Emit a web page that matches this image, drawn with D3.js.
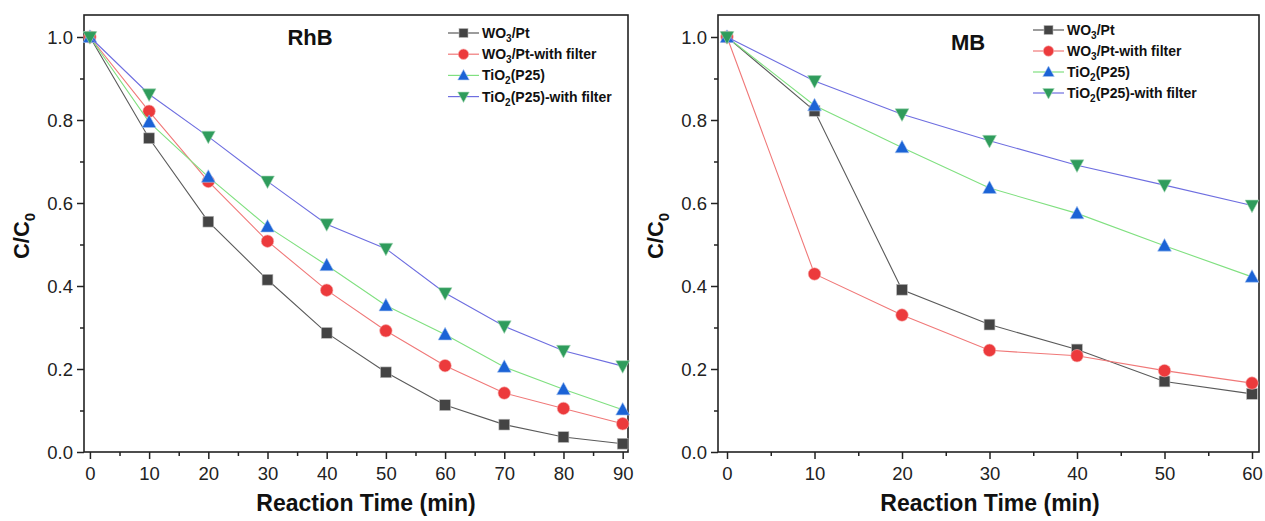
<!DOCTYPE html>
<html><head><meta charset="utf-8">
<script src="https://cdn.jsdelivr.net/npm/d3@7"></script>
<style>body{margin:0;background:#fff}svg{font-family:"Liberation Sans",Arial,sans-serif}</style>
</head><body><svg id="c" width="1265" height="521"></svg>
<script>
// ---- data ----
const timesRhB = [0,10,20,30,40,50,60,70,80,90];
const rhbWO3Pt       = [1.0,0.756,0.555,0.415,0.287,0.192,0.113,0.066,0.036,0.020];
const rhbWO3PtFilter = [1.0,0.821,0.652,0.508,0.390,0.292,0.208,0.142,0.105,0.068];
const rhbTiO2        = [1.0,0.795,0.663,0.543,0.450,0.353,0.283,0.205,0.151,0.102];
const rhbTiO2Filter  = [1.0,0.862,0.760,0.652,0.549,0.490,0.383,0.303,0.244,0.207];

const timesMB = [0,10,20,30,40,50,60];
const mbWO3Pt        = [1.0,0.822,0.391,0.307,0.247,0.170,0.140];
const mbWO3PtFilter  = [1.0,0.429,0.330,0.245,0.232,0.196,0.166];
const mbTiO2         = [1.0,0.835,0.734,0.636,0.575,0.497,0.422];
const mbTiO2Filter   = [1.0,0.894,0.814,0.750,0.691,0.643,0.594];

// series labels: [main, subscript, rest]
const seriesLabels = [["WO","3","/Pt"],["WO","3","/Pt-with filter"],["TiO","2","(P25)"],["TiO","2","(P25)-with filter"]];
const yTicks = [0.0,0.2,0.4,0.6,0.8,1.0];
const yMinor = [0.1,0.3,0.5,0.7,0.9];
const xTicksRhB = [0,10,20,30,40,50,60,70,80,90];
const xMinorRhB = [5,15,25,35,45,55,65,75,85];
const xTicksMB = [0,10,20,30,40,50,60];
const xMinorMB = [5,15,25,35,45,55];

// ---- styles ----
const lineColors = ["#5a5a5a","#f07878","#80e080","#6e6ee0"];
const markColors = ["#444444","#ec3a3c","#1b63d6","#2f9c5c"];
const markTypes  = ["square","circle","up","down"];

const svg = d3.select("#c");

function marker(g, type, cx, cy, color, s) {
  if (type === "square") {
    g.append("rect").attr("x",cx-s*0.45).attr("y",cy-s*0.45).attr("width",s*0.9).attr("height",s*0.9)
      .attr("fill",color).attr("stroke","#bbb").attr("stroke-width",0.6);
  } else if (type === "circle") {
    g.append("circle").attr("cx",cx).attr("cy",cy).attr("r",s*0.52).attr("fill",color)
      .attr("stroke","#f5b0b0").attr("stroke-width",0.6);
  } else if (type === "up") {
    const h = s*1.0, w = s*1.15;
    g.append("path").attr("d",`M${cx},${cy-h*0.6}L${cx+w/2},${cy+h*0.45}L${cx-w/2},${cy+h*0.45}Z`)
      .attr("fill",color).attr("stroke","#a8c4f0").attr("stroke-width",0.6);
  } else {
    const h = s*1.0, w = s*1.15;
    g.append("path").attr("d",`M${cx},${cy+h*0.6}L${cx+w/2},${cy-h*0.45}L${cx-w/2},${cy-h*0.45}Z`)
      .attr("fill",color).attr("stroke","#a8d8b8").attr("stroke-width",0.6);
  }
}

function addSubText(t, parts, subSize) {
  t.append("tspan").text(parts[0]);
  t.append("tspan").text(parts[1]).attr("font-size",subSize).attr("dy",4);
  t.append("tspan").text(parts[2]).attr("dy",-4);
}

function panel(cfg) {
  const x = d3.scaleLinear().domain(cfg.xDomain).range([cfg.left,cfg.right]);
  const y = d3.scaleLinear().domain([0,1.053]).range([cfg.bottom,cfg.top]);
  const g = svg.append("g");

  const xAx = g.append("g").attr("transform",`translate(0,${cfg.bottom})`)
    .call(d3.axisBottom(x).tickValues(cfg.xTicks).tickSize(7).tickSizeOuter(0).tickPadding(8).tickFormat(d3.format("d")));
  const xMin = g.append("g").attr("transform",`translate(0,${cfg.bottom})`)
    .call(d3.axisBottom(x).tickValues(cfg.xMinor).tickSize(4).tickSizeOuter(0).tickFormat(""));
  const yAx = g.append("g").attr("transform",`translate(${cfg.left},0)`)
    .call(d3.axisLeft(y).tickValues(yTicks).tickSize(7).tickSizeOuter(0).tickPadding(4).tickFormat(d3.format(".1f")));
  const yMin = g.append("g").attr("transform",`translate(${cfg.left},0)`)
    .call(d3.axisLeft(y).tickValues(yMinor).tickSize(4).tickSizeOuter(0).tickFormat(""));
  [xAx,xMin,yAx,yMin].forEach(a => {
    a.select(".domain").remove();
    a.selectAll("line").attr("stroke","#222").attr("stroke-width",1.5);
    a.selectAll("text").attr("font-size",18.5).attr("fill","#222").attr("font-family","Liberation Sans, Arial, sans-serif");
  });
  yAx.selectAll("text").attr("dy","0.35em");

  g.append("rect").attr("x",cfg.left).attr("y",cfg.top).attr("width",cfg.right-cfg.left).attr("height",cfg.bottom-cfg.top)
    .attr("fill","none").attr("stroke","#222").attr("stroke-width",1.6);

  const line = d3.line().x(d=>x(d[0])).y(d=>y(d[1]));
  cfg.series.forEach((vals,i) => {
    const pts = cfg.times.map((t,j)=>[t,vals[j]]);
    g.append("path").attr("d",line(pts)).attr("fill","none").attr("stroke",lineColors[i]).attr("stroke-width",1.1);
    pts.forEach(p => marker(g, markTypes[i], x(p[0]), y(p[1]), markColors[i], 12));
  });

  g.append("text").attr("x",cfg.titleX).attr("y",cfg.titleY).attr("text-anchor","middle")
    .attr("font-size",22).attr("font-weight","bold").attr("fill","#111").text(cfg.title);

  seriesLabels.forEach((lab,i) => {
    const ly = cfg.legY + i*cfg.legDy;
    g.append("line").attr("x1",cfg.legX).attr("x2",cfg.legX+31).attr("y1",ly).attr("y2",ly)
      .attr("stroke",lineColors[i]).attr("stroke-width",1.2);
    marker(g, markTypes[i], cfg.legX+15.5, ly, markColors[i], 10);
    const t = g.append("text").attr("x",cfg.legX+34).attr("y",ly+5).attr("font-size",14).attr("font-weight","bold").attr("fill","#111");
    addSubText(t, lab, 10);
  });

  g.append("text").attr("x",cfg.axTitleX).attr("y",511).attr("text-anchor","middle")
    .attr("font-size",23).attr("font-weight","bold").attr("fill","#111").text("Reaction Time (min)");
  const yl = g.append("text").attr("transform",`translate(${cfg.left-55},${cfg.yTitleY}) rotate(-90)`)
    .attr("text-anchor","middle").attr("font-size",22).attr("font-weight","bold").attr("fill","#111");
  yl.append("tspan").text("C/C");
  yl.append("tspan").text("0").attr("font-size",15).attr("dy",6);
}

panel({left:84,right:628,top:15,bottom:452,xDomain:[-1,90.9],times:timesRhB,xTicks:xTicksRhB,xMinor:xMinorRhB,
  series:[rhbWO3Pt,rhbWO3PtFilter,rhbTiO2,rhbTiO2Filter],title:"RhB",titleX:310,titleY:45,legX:448,legY:33,legDy:21.2,
  axTitleX:366,yTitleY:236});
panel({left:718,right:1259,top:15,bottom:452,xDomain:[-1.03,60.8],times:timesMB,xTicks:xTicksMB,xMinor:xMinorMB,
  series:[mbWO3Pt,mbWO3PtFilter,mbTiO2,mbTiO2Filter],title:"MB",titleX:968,titleY:50,legX:1033,legY:30,legDy:21,
  axTitleX:990,yTitleY:236});
</script></body></html>
